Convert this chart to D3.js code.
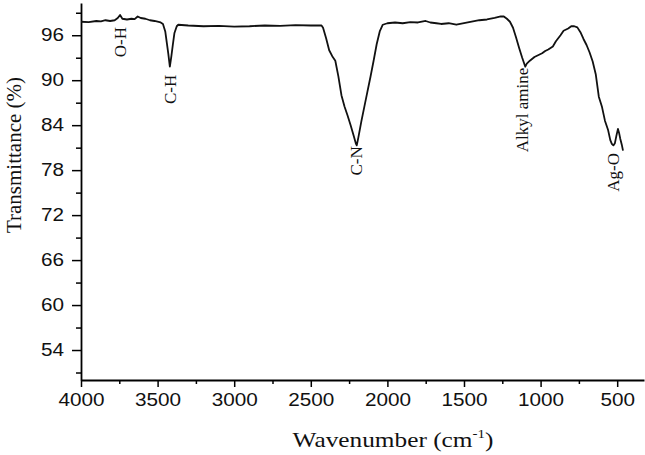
<!DOCTYPE html>
<html>
<head>
<meta charset="utf-8">
<script src="https://cdn.jsdelivr.net/npm/d3@7"></script>
<style>
  body { margin: 0; background: #fff; }
  svg { display: block; }
</style>
</head>
<body>
<div id="chart-area"></div>
<script>
// FTIR spectrum
const wavenumber = [4000, 3950, 3900, 3870, 3840, 3810, 3780, 3760, 3745, 3730, 3700, 3670, 3650, 3630, 3610, 3580, 3550, 3520, 3480, 3465,
  3450, 3440, 3430, 3420, 3410, 3400, 3390, 3375, 3365, 3300, 3200, 3100, 3000, 2900, 2800, 2700, 2600, 2500, 2430,
  2420, 2400, 2380, 2360, 2340, 2320, 2300, 2280, 2260, 2240, 2220, 2205, 2200, 2190, 2170, 2150, 2130, 2110, 2090, 2070, 2050, 2030,
  2000, 1950, 1900, 1850, 1800, 1750, 1720, 1680, 1650, 1600, 1550, 1500, 1450, 1400, 1350, 1300, 1260, 1240,
  1220, 1200, 1180, 1160, 1140, 1120, 1100, 1090, 1070, 1040, 1010, 990, 970, 950, 920, 900, 870, 850, 820, 800, 780, 760,
  740, 720, 700, 680, 660, 640, 620, 600, 580, 560, 545, 535, 525, 515, 505, 495, 488, 480, 470, 462];
const transmittance = [97.8, 97.75, 97.9, 97.85, 98.0, 97.9, 98.0, 98.3, 98.7, 98.2, 98.1, 98.2, 98.15, 98.5, 98.3, 98.2, 98.0, 97.9, 97.7, 97.5,
  96.5, 95.0, 93.5, 91.8, 93.2, 94.8, 96.3, 97.2, 97.4, 97.3, 97.2, 97.25, 97.15, 97.2, 97.3, 97.25, 97.35, 97.3, 97.3,
  97.0, 95.6, 94.0, 93.2, 92.6, 90.5, 88.0, 86.5, 85.3, 84.0, 82.6, 81.5, 81.3, 82.3, 84.5, 86.5, 88.5, 90.5, 92.6, 94.8, 96.5, 97.4,
  97.6, 97.7, 97.6, 97.75, 97.7, 97.9, 97.7, 97.6, 97.5, 97.6, 97.4, 97.6, 97.8, 98.0, 98.1, 98.3, 98.5, 98.5,
  98.2, 97.8, 97.0, 95.7, 94.3, 93.0, 91.8, 92.2, 92.6, 93.1, 93.4, 93.6, 93.9, 94.1, 94.5, 95.2, 96.0, 96.6, 96.9, 97.2, 97.2, 97.05,
  96.4, 95.5, 94.7, 93.7, 92.5, 90.8, 87.8, 86.5, 84.6, 83.4, 82.0, 81.5, 81.3, 81.6, 82.6, 83.5, 83.0, 82.2, 81.4, 80.6];

const peakLabels = ['O-H', 'C-H', 'C-N', 'Alkyl amine', 'Ag-O'];
const peakWavenumbers = [3745, 3420, 2204, 1120, 528];
const peakGap = [12, 8, 2, 10, 8]; // px between curve and label

const yMajorTicks = [54, 60, 66, 72, 78, 84, 90, 96];
const yMinorTicks = [51, 57, 63, 69, 75, 81, 87, 93, 99];
const xMajorTicks = [4000, 3500, 3000, 2500, 2000, 1500, 1000, 500];
const xMinorTicks = [3750, 3250, 2750, 2250, 1750, 1250, 750];

const W = 645, H = 455;
const margin = { left: 81, right: 644, top: 3, bottom: 380 };
const stretch = 1.15; // the picture is a bit wider than tall

let svg = d3.select('#chart-area')
  .append('svg')
  .attr('width', W)
  .attr('height', H)

svg.append('rect').attr('width', W).attr('height', H).attr('fill', '#fff')

let x = d3.scaleLinear()
  .domain([4000, 325])
  .range([margin.left, margin.right])

let y = d3.scaleLinear()
  .domain([50, 100.3])
  .range([margin.bottom, margin.top])

const sans = '"Liberation Sans", Arial, sans-serif';
const serif = '"Liberation Serif", "Times New Roman", serif';

function widen(sel) {
  sel.each(function() {
    const w = this.getComputedTextLength();
    this.setAttribute('textLength', w * stretch);
    this.setAttribute('lengthAdjust', 'spacingAndGlyphs');
  })
}

// minor ticks first, then the main axes on top
svg.append('g')
  .attr('transform', `translate(${margin.left},0)`)
  .call(d3.axisLeft(y).tickValues(yMinorTicks).tickSize(5).tickSizeOuter(0).tickFormat(''))
  .call(g => g.select('.domain').remove())
  .selectAll('line').attr('stroke-width', 1.5)

svg.append('g')
  .attr('transform', `translate(0,${margin.bottom})`)
  .call(d3.axisBottom(x).tickValues(xMinorTicks).tickSize(4).tickSizeOuter(0).tickFormat(''))
  .call(g => g.select('.domain').remove())
  .selectAll('line').attr('stroke-width', 1.5)

let yAxis = svg.append('g')
  .attr('transform', `translate(${margin.left},0)`)
  .call(d3.axisLeft(y).tickValues(yMajorTicks).tickSize(9).tickSizeOuter(0).tickPadding(8).tickFormat(d3.format('d')))

let xAxis = svg.append('g')
  .attr('transform', `translate(0,${margin.bottom})`)
  .call(d3.axisBottom(x).tickValues(xMajorTicks).tickSize(7).tickSizeOuter(0).tickPadding(6).tickFormat(d3.format('d')))

for (const ax of [xAxis, yAxis]) {
  ax.select('.domain').attr('stroke-width', 1.8)
  ax.selectAll('line').attr('stroke-width', 1.5)
  ax.selectAll('text')
    .style('font-family', sans)
    .style('font-size', '18px')
    .attr('fill', '#111')
    .call(widen)
}

// spectrum
const points = wavenumber.map((w, i) => [w, transmittance[i]]);
const line = d3.line()
  .x(d => x(d[0]))
  .y(d => y(d[1]));

svg.append('path')
  .datum(points)
  .attr('d', line)
  .attr('fill', 'none')
  .attr('stroke', '#111')
  .attr('stroke-width', 1.8)
  .attr('stroke-linejoin', 'round')

// peak labels, rotated, hanging under the curve
const curveAt = w => {
  const i = wavenumber.findIndex(v => v <= w);
  if (i <= 0) return transmittance[Math.max(i, 0)];
  const t = (w - wavenumber[i - 1]) / (wavenumber[i] - wavenumber[i - 1]);
  return transmittance[i - 1] + t * (transmittance[i] - transmittance[i - 1]);
}

svg.append('g')
  .selectAll('text')
  .data(peakLabels)
  .join('text')
  .attr('transform', (d, i) => `translate(${x(peakWavenumbers[i])},${y(curveAt(peakWavenumbers[i])) + peakGap[i]}) rotate(-90)`)
  .attr('dy', '0.35em')
  .attr('text-anchor', 'end')
  .style('font-family', serif)
  .style('font-size', '17px')
  .attr('fill', '#111')
  .text(d => d)

// axis titles
svg.append('text')
  .attr('transform', `translate(21, 155) rotate(-90)`)
  .attr('text-anchor', 'middle')
  .style('font-family', serif)
  .style('font-size', '21px')
  .attr('fill', '#111')
  .text('Transmittance (%)')

let xTitle = svg.append('text')
  .attr('x', 393)
  .attr('y', 447)
  .attr('text-anchor', 'middle')
  .style('font-family', serif)
  .style('font-size', '22px')
  .attr('fill', '#111')

xTitle.append('tspan').text('Wavenumber (cm')
xTitle.append('tspan').attr('dy', -9).style('font-size', '13px').text('-1')
xTitle.append('tspan').attr('dy', 9).text(')')
xTitle.call(widen)
</script>
</body>
</html>
